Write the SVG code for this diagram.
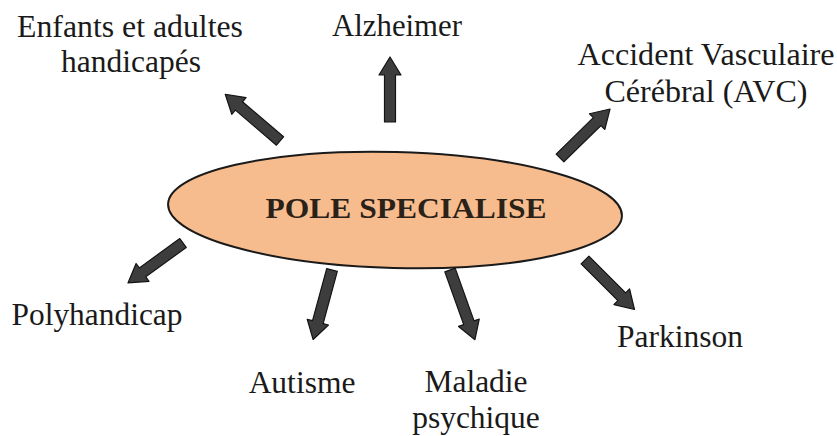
<svg xmlns="http://www.w3.org/2000/svg" width="837" height="436" viewBox="0 0 837 436">
<style>
.lbl{font-family:"Liberation Serif","Times New Roman",serif;font-size:31.5px;fill:#1a1a1a;text-anchor:middle}
.ttl{font-family:"Liberation Serif","Times New Roman",serif;font-size:30px;font-weight:bold;fill:#2a2118;text-anchor:middle}
.arr{fill:#3d3d3d;stroke:#141414;stroke-width:1.2;stroke-linejoin:round}
</style>
<rect width="837" height="436" fill="#ffffff"/>
<g id="center">
<ellipse cx="395" cy="210" rx="227" ry="58" transform="rotate(1.5 395 210)" fill="#f7bc8d" stroke="#1a1a1a" stroke-width="2"/>
<text class="ttl" x="406" y="218" textLength="281" lengthAdjust="spacingAndGlyphs">POLE SPECIALISE</text>
</g>
<g id="connectors">
<polygon class="arr" transform="translate(280,141) rotate(-139.5)" points="0,-5.5 54,-5.5 54,-11 72,0 54,11 54,5.5 0,5.5"/>
<polygon class="arr" transform="translate(390,122) rotate(-90)" points="0,-5.5 47,-5.5 47,-11 65,0 47,11 47,5.5 0,5.5"/>
<polygon class="arr" transform="translate(560,158) rotate(-44.4)" points="0,-5.5 52,-5.5 52,-11 70,0 52,11 52,5.5 0,5.5"/>
<polygon class="arr" transform="translate(183,243) rotate(144)" points="0,-5.5 50,-5.5 50,-11 68,0 50,11 50,5.5 0,5.5"/>
<polygon class="arr" transform="translate(332,270) rotate(105.2)" points="0,-5.5 54,-5.5 54,-11 72,0 54,11 54,5.5 0,5.5"/>
<polygon class="arr" transform="translate(450,270) rotate(70.3)" points="0,-5.5 56,-5.5 56,-11 74,0 56,11 56,5.5 0,5.5"/>
<polygon class="arr" transform="translate(585,260) rotate(45)" points="0,-5.5 52,-5.5 52,-11 70,0 52,11 52,5.5 0,5.5"/>
</g>
<g id="enfants">
<text class="lbl" x="130" y="37" textLength="226" lengthAdjust="spacingAndGlyphs">Enfants et adultes</text>
<text class="lbl" x="131" y="72">handicapés</text>
</g>
<g id="alzheimer">
<text class="lbl" x="397" y="36" textLength="130" lengthAdjust="spacingAndGlyphs">Alzheimer</text>
</g>
<g id="avc">
<text class="lbl" x="706" y="65" textLength="257" lengthAdjust="spacingAndGlyphs">Accident Vasculaire</text>
<text class="lbl" x="706" y="102" textLength="203" lengthAdjust="spacingAndGlyphs">Cérébral (AVC)</text>
</g>
<g id="polyhandicap">
<text class="lbl" x="97" y="325" textLength="171" lengthAdjust="spacingAndGlyphs">Polyhandicap</text>
</g>
<g id="autisme">
<text class="lbl" x="302" y="393">Autisme</text>
</g>
<g id="maladie">
<text class="lbl" x="476" y="392">Maladie</text>
<text class="lbl" x="476" y="428">psychique</text>
</g>
<g id="parkinson">
<text class="lbl" x="680" y="347">Parkinson</text>
</g>
</svg>
